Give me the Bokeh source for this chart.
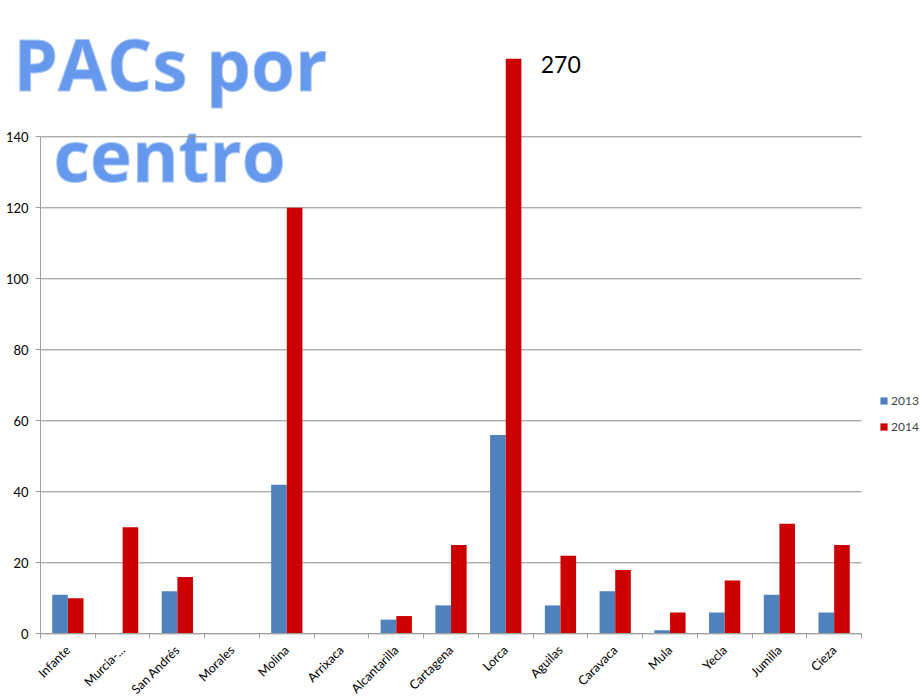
from bokeh.plotting import figure
from bokeh.models import (Range1d, ColumnDataSource, FixedTicker, Legend, LegendItem, Label)
from bokeh.embed import file_html
from bokeh.resources import INLINE
import math

centros = ["Infante", "Murcia-...", "San Andrés", "Morales", "Molina", "Arrixaca",
           "Alcantarilla", "Cartagena", "Lorca", "Aguilas", "Caravaca", "Mula",
           "Yecla", "Jumilla", "Cieza"]
pacs_2013 = [11, 0, 12, 0, 42, 0, 4, 8, 56, 8, 12, 1, 6, 11, 6]
pacs_2014 = [10, 30, 16, 0, 120, 0, 5, 25, 270, 22, 18, 6, 15, 31, 25]
y_ticks = [0, 20, 40, 60, 80, 100, 120, 140]
series = ["2013", "2014"]
title_lines = ["PACs por", "centro"]

BLUE = "#4F81BD"
RED = "#CC0000"
FONT = "Lato"
AXIS_MAX = 162          # the value axis is cut here; taller bars are cut at it
GRAY = "#a0a0a0"

n = len(centros)
centers = list(range(1, n + 1))
bounds_x = [c - 0.5 for c in centers] + [n + 0.5]
bar_w = 0.285
shift = 0.143

src = ColumnDataSource(dict(
    x13=[c - shift for c in centers], x14=[c + shift for c in centers],
    t13=[min(v, AXIS_MAX) for v in pacs_2013],
    t14=[min(v, AXIS_MAX) for v in pacs_2014]))

W, H = 920, 697
p = figure(width=W, height=H, output_backend="svg", toolbar_location=None,
           x_range=Range1d(-0.231, 16.578), y_range=Range1d(-17.94, 178.39),
           min_border=0, outline_line_color=None)

# horizontal gridlines, only across the category area
p.xgrid.visible = False
p.ygrid.visible = False
p.segment(x0=bounds_x[0], x1=bounds_x[-1], y0=y_ticks, y1=y_ticks,
          line_color="#8c8c8c", line_width=1)

r13 = p.vbar(x="x13", top="t13", width=bar_w, source=src, fill_color=BLUE, line_color=None)
r14 = p.vbar(x="x14", top="t14", width=bar_w, source=src, fill_color=RED, line_color=None)

# value axis
ya = p.yaxis[0]
ya.fixed_location = bounds_x[0]
ya.ticker = FixedTicker(ticks=y_ticks)
ya.bounds = (y_ticks[0], y_ticks[-1])
ya.minor_tick_line_color = None
ya.major_tick_in = 0
ya.major_tick_out = 5
ya.axis_line_color = GRAY
ya.major_tick_line_color = GRAY
ya.major_label_text_font = FONT
ya.major_label_text_font_size = "13px"
ya.major_label_text_color = "#000000"
ya.major_label_standoff = 7

# category axis
xa = p.xaxis[0]
xa.fixed_location = 0
xa.ticker = FixedTicker(ticks=centers, minor_ticks=bounds_x)
xa.bounds = (bounds_x[0], bounds_x[-1])
xa.major_label_overrides = {c: name for c, name in zip(centers, centros)}
xa.axis_line_color = GRAY
xa.major_tick_line_color = None
xa.major_tick_in = 0
xa.major_tick_out = 0
xa.minor_tick_line_color = GRAY
xa.minor_tick_in = 0
xa.minor_tick_out = 5
xa.major_label_orientation = math.pi / 4
xa.major_label_text_font = FONT
xa.major_label_text_font_size = "12.5px"
xa.major_label_text_color = "#000000"
xa.major_label_standoff = 9

legend = Legend(items=[LegendItem(label=series[0], renderers=[r13]),
                       LegendItem(label=series[1], renderers=[r14])],
                location=(879, 261), orientation="vertical",
                glyph_width=9, glyph_height=9, label_height=20, spacing=6,
                padding=0, margin=0, label_standoff=3,
                label_text_font=FONT, label_text_font_size="12px",
                border_line_color=None, background_fill_alpha=0)
p.add_layout(legend, "center")

lorca = centros.index("Lorca")
p.add_layout(Label(x=centers[lorca], y=AXIS_MAX, x_offset=35, y_offset=-5.5,
                   text=str(pacs_2014[lorca]), text_font=FONT, text_font_size="23px",
                   text_baseline="middle", text_color="#000000"))

title_pos = [(13, H - 63), (53, H - 154)]
for (tx, ty), line in zip(title_pos, title_lines):
    p.add_layout(Label(x=tx, y=ty, x_units="screen", y_units="screen", text=line,
                       text_font="Open Sans", text_font_style="bold", text_font_size="71px",
                       text_color="#6699EE", text_outline_color="#a9c6f5",
                       text_baseline="alphabetic", level="underlay"))

open("out.html", "w").write(file_html(p, INLINE))
